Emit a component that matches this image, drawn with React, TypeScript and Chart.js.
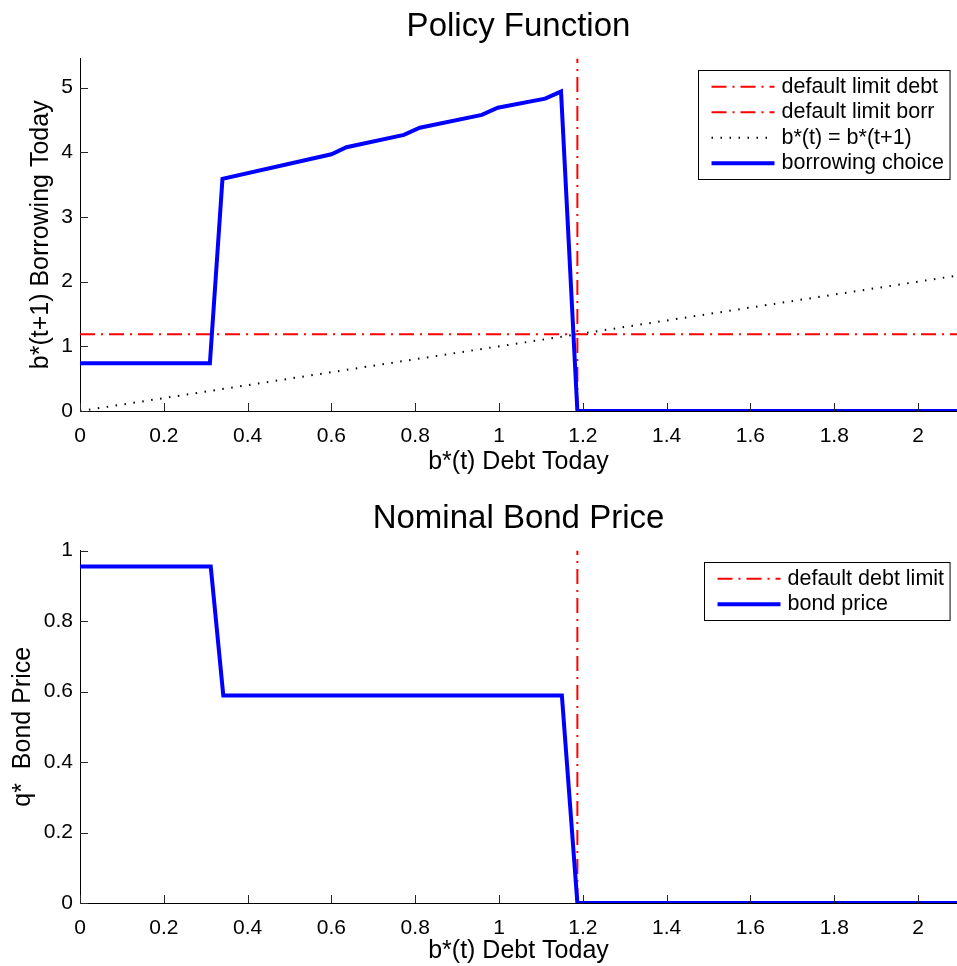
import React, { useEffect, useRef } from 'react';
import { Chart, registerables } from 'chart.js';

Chart.register(...registerables);

const FONT = '"Liberation Sans", Arial, Helvetica, sans-serif';
Chart.defaults.font.family = FONT;
Chart.defaults.color = '#000';

// ---------- data ----------
const xAxisMin = 0;
const xAxisMax = 2.093;
const xTickStep = 0.2;

// Policy function (borrowing choice)
const borrowX = [0, 0.31, 0.34, 0.6, 0.636, 0.773, 0.811, 0.959, 0.997, 1.11, 1.148, 1.187, 2.1];
const borrowY = [0.74, 0.74, 3.59, 3.97, 4.08, 4.27, 4.38, 4.58, 4.69, 4.83, 4.94, 0, 0];

const defaultLimit = 1.187;
const identityX = [0, 2.1];
const identityY = [0, 2.1];

const policyYMax = 5.45;
const policyYStep = 1;

// Nominal bond price
const bondX = [0, 0.312, 0.342, 1.15, 1.187, 2.1];
const bondY = [0.955, 0.955, 0.589, 0.589, 0, 0];

const bondYMax = 1;
const bondYStep = 0.2;

// ---------- styles ----------
const RED = '#ff0000';
const BLUE = '#0000ff';
const DASH_DOT = [15, 6, 2, 6];
const DOTTED = [1.5, 7.5];

const pts = (xs: number[], ys: number[]) => xs.map((x, i) => ({ x, y: ys[i] }));

const fmt = (v: number) => String(parseFloat(Number(v).toFixed(3)));

const inwardTicks = {
  id: 'inwardTicks',
  afterDatasetsDraw(chart: any) {
    const { ctx, chartArea, scales } = chart;
    ctx.save();
    ctx.strokeStyle = '#262626';
    ctx.lineWidth = 1;
    ctx.setLineDash([]);
    ctx.beginPath();
    scales.x.ticks.forEach((t: any) => {
      const px = Math.round(scales.x.getPixelForValue(t.value)) + 0.5;
      ctx.moveTo(px, chartArea.bottom);
      ctx.lineTo(px, chartArea.bottom - 8);
    });
    scales.y.ticks.forEach((t: any) => {
      const py = Math.round(scales.y.getPixelForValue(t.value)) + 0.5;
      ctx.moveTo(chartArea.left, py);
      ctx.lineTo(chartArea.left + 8, py);
    });
    ctx.stroke();
    ctx.restore();
  },
};

const boxLegend = {
  id: 'boxLegend',
  afterDraw(chart: any) {
    const { ctx, chartArea } = chart;
    const items = chart.data.datasets.map((ds: any) => ({
      label: ds.label,
      color: ds.borderColor,
      width: ds.borderWidth,
      dash: ds.borderDash || [],
    }));
    ctx.save();
    ctx.font = `21.5px ${FONT}`;
    const textW = Math.max(...items.map((i: any) => ctx.measureText(i.label).width));
    const padL = 13, sample = 63, gap = 7, padR = 6, padT = 3.5, rowH = 25.5;
    const w = padL + sample + gap + textW + padR;
    const h = padT * 2 + rowH * items.length;
    const x = Math.round(chartArea.right - 7 - w) + 0.5;
    const y = Math.round(chartArea.top + 11) + 0.5;
    ctx.fillStyle = '#fff';
    ctx.fillRect(x, y, w, h);
    ctx.strokeStyle = '#000';
    ctx.lineWidth = 1;
    ctx.setLineDash([]);
    ctx.strokeRect(x, y, w, h);
    items.forEach((it: any, i: number) => {
      const cy = y + padT + rowH * (i + 0.5);
      ctx.beginPath();
      ctx.strokeStyle = it.color;
      ctx.lineWidth = it.width;
      ctx.setLineDash(it.dash);
      ctx.moveTo(x + padL, cy);
      ctx.lineTo(x + padL + sample, cy);
      ctx.stroke();
      ctx.setLineDash([]);
      ctx.fillStyle = '#000';
      ctx.textAlign = 'left';
      ctx.textBaseline = 'middle';
      ctx.fillText(it.label, x + padL + sample + gap, cy);
    });
    ctx.restore();
  },
};

function buildOptions(p: {
  height: number;
  title: string;
  yMax: number;
  yStep: number;
  yTitle: string;
  yTitlePad: number;
  xTitlePadBottom: number;
}) {
  return {
    responsive: false,
    animation: false,
    devicePixelRatio: 1,
    layout: { padding: 0 },
    elements: { point: { radius: 0 } },
    plugins: {
      legend: { display: false },
      tooltip: { enabled: false },
      title: {
        display: true,
        text: p.title,
        fullSize: false,
        color: '#000',
        font: { size: 33, weight: 'normal', family: FONT },
        padding: { top: 7, bottom: 12 },
      },
    },
    scales: {
      x: {
        type: 'linear',
        min: xAxisMin,
        max: xAxisMax,
        grid: { display: false, drawTicks: false },
        border: { display: true, color: '#000', width: 1 },
        ticks: {
          stepSize: xTickStep,
          includeBounds: false,
          autoSkip: false,
          maxRotation: 0,
          padding: 13,
          color: '#000',
          font: { size: 21, family: FONT },
          callback: (v: any) => fmt(v),
        },
        title: {
          display: true,
          text: 'b*(t) Debt Today',
          color: '#000',
          font: { size: 25, family: FONT },
          padding: { top: 0, bottom: p.xTitlePadBottom },
        },
        afterFit: (scale: any) => {
          scale.height = p.height - 411;
        },
      },
      y: {
        type: 'linear',
        min: 0,
        max: p.yMax,
        grid: { display: false, drawTicks: false },
        border: { display: true, color: '#000', width: 1 },
        ticks: {
          stepSize: p.yStep,
          includeBounds: false,
          autoSkip: false,
          padding: 7,
          color: '#000',
          font: { size: 21, family: FONT },
          callback: (v: any) => fmt(v),
        },
        title: {
          display: true,
          text: p.yTitle,
          color: '#000',
          font: { size: 25, family: FONT },
          padding: { top: p.yTitlePad, bottom: 0 },
        },
        afterFit: (scale: any) => {
          scale.width = 80;
        },
      },
    },
  };
}

function ChartCanvas({ height, config }: { height: number; config: any }) {
  const ref = useRef<HTMLCanvasElement | null>(null);
  useEffect(() => {
    if (!ref.current) return;
    const chart = new Chart(ref.current, config);
    return () => chart.destroy();
  }, []);
  return <canvas ref={ref} width={957} height={height} style={{ display: 'block', width: 957, height }} />;
}

const TOP_H = 492;
const BOTTOM_H = 474;

const policyConfig = {
  type: 'scatter',
  data: {
    datasets: [
      {
        label: 'default limit debt',
        data: pts([defaultLimit, defaultLimit], [0, policyYMax]),
        showLine: true,
        borderColor: RED,
        borderWidth: 2,
        borderDash: DASH_DOT,
        order: 2,
      },
      {
        label: 'default limit borr',
        data: pts([0, 2.1], [defaultLimit, defaultLimit]),
        showLine: true,
        borderColor: RED,
        borderWidth: 2,
        borderDash: DASH_DOT,
        order: 3,
      },
      {
        label: 'b*(t) = b*(t+1)',
        data: pts(identityX, identityY),
        showLine: true,
        borderColor: '#000',
        borderWidth: 2,
        borderDash: DOTTED,
        order: 4,
      },
      {
        label: 'borrowing choice',
        data: pts(borrowX, borrowY),
        showLine: true,
        borderColor: BLUE,
        borderWidth: 4,
        order: 0,
      },
    ],
  },
  options: buildOptions({
    height: TOP_H,
    title: 'Policy Function',
    yMax: policyYMax,
    yStep: policyYStep,
    yTitle: 'b*(t+1) Borrowing Today',
    yTitlePad: 26,
    xTitlePadBottom: 15,
  }),
  plugins: [inwardTicks, boxLegend],
};

const bondConfig = {
  type: 'scatter',
  data: {
    datasets: [
      {
        label: 'default debt limit',
        data: pts([defaultLimit, defaultLimit], [0, bondYMax]),
        showLine: true,
        borderColor: RED,
        borderWidth: 2,
        borderDash: DASH_DOT,
        order: 2,
      },
      {
        label: 'bond price',
        data: pts(bondX, bondY),
        showLine: true,
        borderColor: BLUE,
        borderWidth: 4,
        order: 0,
      },
    ],
  },
  options: buildOptions({
    height: BOTTOM_H,
    title: 'Nominal Bond Price',
    yMax: bondYMax,
    yStep: bondYStep,
    yTitle: 'q*  Bond Price',
    yTitlePad: 8,
    xTitlePadBottom: 0,
  }),
  plugins: [inwardTicks, boxLegend],
};

export default function App() {
  useEffect(() => {
    document.body.style.margin = '0';
    document.body.style.background = '#fff';
  }, []);
  return (
    <div style={{ width: 957, height: 966, background: '#fff' }}>
      <ChartCanvas height={TOP_H} config={policyConfig} />
      <ChartCanvas height={BOTTOM_H} config={bondConfig} />
    </div>
  );
}
